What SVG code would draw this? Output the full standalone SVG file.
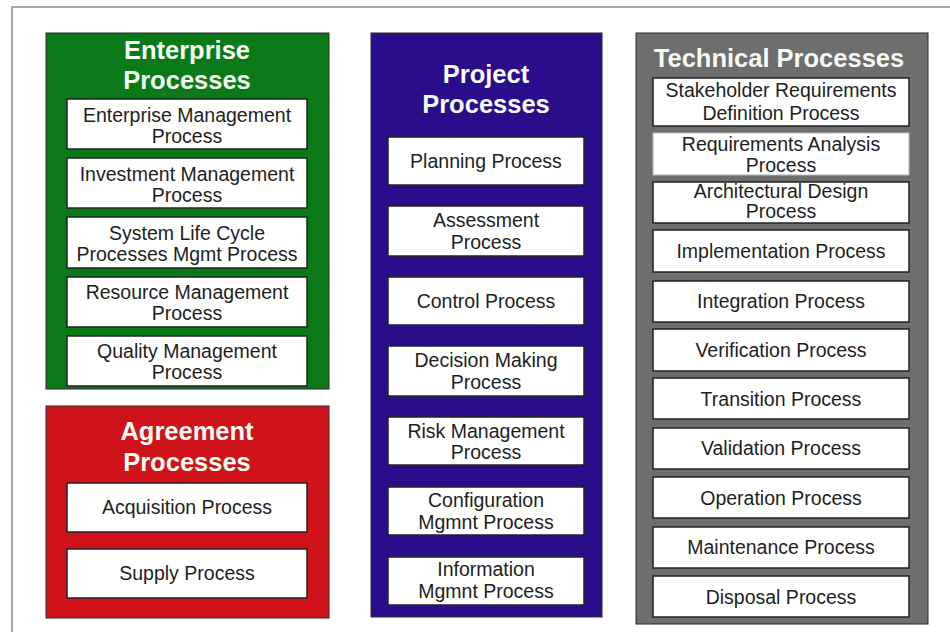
<svg xmlns="http://www.w3.org/2000/svg" width="950" height="632" viewBox="0 0 950 632">
<style>
.frame{fill:none;stroke:#8a8a8a;stroke-width:1.5}
.grp{stroke:#2a2a2a;stroke-width:1}
.green{fill:#0a7a18}
.red{fill:#d0121a}
.blue{fill:#2b0c8a}
.gray{fill:#6e6e6e}
.box{fill:#ffffff;stroke:#222;stroke-width:1.5}
.boxl{fill:#ffffff;stroke:#b8b8b8;stroke-width:1}
.title{font-family:"Liberation Sans",Arial,sans-serif;font-weight:bold;font-size:25.5px;fill:#f4fbf2;text-anchor:middle}
.t{font-family:"Liberation Sans",Arial,sans-serif;font-size:19.5px;fill:#1e1e1e;text-anchor:middle}
</style>
<rect width="950" height="632" fill="#ffffff"/>
<rect class="frame" x="12" y="7" width="960" height="650"/>

<g id="enterprise">
<rect class="grp green" x="46" y="33" width="283" height="356"/>
<text class="title" x="187" y="59">Enterprise</text>
<text class="title" x="187" y="89">Processes</text>
</g>
<g id="enterprise-management">
<rect class="box" x="67" y="99" width="240" height="50"/>
<text class="t" x="187" y="122">Enterprise Management</text>
<text class="t" x="187" y="143">Process</text>
</g>
<g id="investment-management">
<rect class="box" x="67" y="158" width="240" height="50"/>
<text class="t" x="187" y="181">Investment Management</text>
<text class="t" x="187" y="202">Process</text>
</g>
<g id="system-life-cycle">
<rect class="box" x="67" y="217" width="240" height="51"/>
<text class="t" x="187" y="240">System Life Cycle</text>
<text class="t" x="187" y="261">Processes Mgmt Process</text>
</g>
<g id="resource-management">
<rect class="box" x="67" y="277" width="240" height="50"/>
<text class="t" x="187" y="299">Resource Management</text>
<text class="t" x="187" y="320">Process</text>
</g>
<g id="quality-management">
<rect class="box" x="67" y="336" width="240" height="50"/>
<text class="t" x="187" y="358">Quality Management</text>
<text class="t" x="187" y="379">Process</text>
</g>

<g id="agreement">
<rect class="grp red" x="46" y="406" width="283" height="212"/>
<text class="title" x="187" y="440">Agreement</text>
<text class="title" x="187" y="471">Processes</text>
</g>
<g id="acquisition">
<rect class="box" x="67" y="483" width="240" height="49"/>
<text class="t" x="187" y="514">Acquisition Process</text>
</g>
<g id="supply">
<rect class="box" x="67" y="549" width="240" height="49"/>
<text class="t" x="187" y="580">Supply Process</text>
</g>

<g id="project">
<rect class="grp blue" x="371" y="33" width="231" height="584"/>
<text class="title" x="486" y="83">Project</text>
<text class="title" x="486" y="113">Processes</text>
</g>
<g id="planning">
<rect class="box" x="388" y="137" width="196" height="48"/>
<text class="t" x="486" y="168">Planning Process</text>
</g>
<g id="assessment">
<rect class="box" x="388" y="206" width="196" height="50"/>
<text class="t" x="486" y="227">Assessment</text>
<text class="t" x="486" y="249">Process</text>
</g>
<g id="control">
<rect class="box" x="388" y="277" width="196" height="48"/>
<text class="t" x="486" y="308">Control Process</text>
</g>
<g id="decision-making">
<rect class="box" x="388" y="346" width="196" height="50"/>
<text class="t" x="486" y="367">Decision Making</text>
<text class="t" x="486" y="389">Process</text>
</g>
<g id="risk-management">
<rect class="box" x="388" y="417" width="196" height="48"/>
<text class="t" x="486" y="438">Risk Management</text>
<text class="t" x="486" y="459">Process</text>
</g>
<g id="configuration">
<rect class="box" x="388" y="487" width="196" height="48"/>
<text class="t" x="486" y="507">Configuration</text>
<text class="t" x="486" y="529">Mgmnt Process</text>
</g>
<g id="information">
<rect class="box" x="388" y="557" width="196" height="48"/>
<text class="t" x="486" y="576">Information</text>
<text class="t" x="486" y="598">Mgmnt Process</text>
</g>

<g id="technical">
<rect class="grp gray" x="636" y="33" width="292" height="591"/>
<text class="title" x="779" y="67">Technical Processes</text>
</g>
<g id="stakeholder-requirements">
<rect class="box" x="653" y="78" width="256" height="48"/>
<text class="t" x="781" y="97">Stakeholder Requirements</text>
<text class="t" x="781" y="120">Definition Process</text>
</g>
<g id="requirements-analysis">
<rect class="boxl" x="653" y="133" width="256" height="42"/>
<text class="t" x="781" y="151">Requirements Analysis</text>
<text class="t" x="781" y="172">Process</text>
</g>
<g id="architectural-design">
<rect class="box" x="653" y="182" width="256" height="41"/>
<text class="t" x="781" y="198">Architectural Design</text>
<text class="t" x="781" y="218">Process</text>
</g>
<g id="implementation">
<rect class="box" x="653" y="230" width="256" height="42"/>
<text class="t" x="781" y="258">Implementation Process</text>
</g>
<g id="integration">
<rect class="box" x="653" y="281" width="256" height="41"/>
<text class="t" x="781" y="308">Integration Process</text>
</g>
<g id="verification">
<rect class="box" x="653" y="329" width="256" height="42"/>
<text class="t" x="781" y="357">Verification Process</text>
</g>
<g id="transition">
<rect class="box" x="653" y="378" width="256" height="41"/>
<text class="t" x="781" y="406">Transition Process</text>
</g>
<g id="validation">
<rect class="box" x="653" y="428" width="256" height="41"/>
<text class="t" x="781" y="455">Validation Process</text>
</g>
<g id="operation">
<rect class="box" x="653" y="477" width="256" height="41"/>
<text class="t" x="781" y="505">Operation Process</text>
</g>
<g id="maintenance">
<rect class="box" x="653" y="527" width="256" height="41"/>
<text class="t" x="781" y="554">Maintenance Process</text>
</g>
<g id="disposal">
<rect class="box" x="653" y="576" width="256" height="41"/>
<text class="t" x="781" y="604">Disposal Process</text>
</g>
</svg>
